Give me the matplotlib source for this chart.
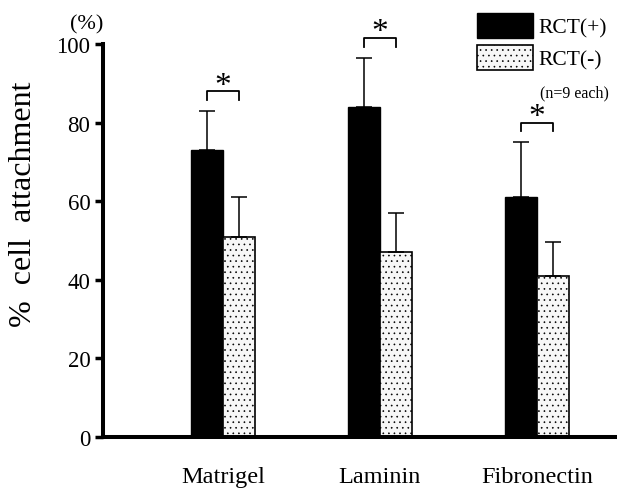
import numpy as np
import matplotlib
matplotlib.use('Agg')
from matplotlib import pyplot as plt


# data

categories = ['Matrigel', 'Laminin', 'Fibronectin']
rct_pos = [73.0, 84.0, 61.0]
rct_pos_err = [10.0, 12.5, 14.0]
rct_neg = [51.0, 47.0, 41.0]
rct_neg_err = [10.0, 10.0, 8.5]
yticks = [0, 20, 40, 60, 80, 100]


plt.rcParams['font.family'] = ['Liberation Serif', 'DejaVu Serif']
plt.rcParams['hatch.linewidth'] = 0.45

fig = plt.figure(figsize=(6.17, 4.89), dpi=100)
ax = fig.add_axes([0.1669, 0.1043, 0.8331, 0.8037])

x = np.arange(len(categories))
w = 0.205

ax.bar(x - w / 2, rct_pos, w, color='black', edgecolor='black', linewidth=1.0, label='RCT(+)')
ax.bar(x + w / 2, rct_neg, w, color='#f7f7f7', edgecolor='black', linewidth=1.2,
       hatch='...', label='RCT(-)')

# one-sided error bars
ax.errorbar(x - w / 2, rct_pos, yerr=[np.zeros(3), rct_pos_err], fmt='none',
            ecolor='black', elinewidth=1.1, capsize=6, capthick=1.1, clip_on=False)
ax.errorbar(x + w / 2, rct_neg, yerr=[np.zeros(3), rct_neg_err], fmt='none',
            ecolor='black', elinewidth=1.1, capsize=6, capthick=1.1, clip_on=False)

# significance brackets
for i in range(len(categories)):
  top = max(rct_pos[i] + rct_pos_err[i], rct_neg[i] + rct_neg_err[i]) + 5
  ax.plot([x[i] - w / 2, x[i] - w / 2, x[i] + w / 2, x[i] + w / 2],
          [top - 2.2, top, top, top - 2.2], color='black', lw=1.3, clip_on=False)
  ax.text(x[i], top - 0.6, '*', ha='center', va='baseline', fontsize=24, clip_on=False)

ax.set_xlim(-0.764, 2.51)
ax.set_ylim(0, 100)

ax.spines['top'].set_visible(False)
ax.spines['right'].set_visible(False)
ax.spines['left'].set_linewidth(2.9)
ax.spines['bottom'].set_linewidth(2.9)

ax.set_yticks(yticks)
ax.tick_params(axis='y', direction='out', length=6, width=2.5, pad=3, labelsize=16.5)
ax.set_xticks(x)
ax.set_xticklabels(categories, fontsize=17.5)
ax.tick_params(axis='x', length=0, pad=21)

ax.set_ylabel('%  cell  attachment', fontsize=23)
ax.yaxis.set_label_coords(-0.127, 0.595)

fig.text(0.141, 0.949, '(%)', ha='center', va='center', fontsize=16)

leg = ax.legend(loc='upper left', bbox_to_anchor=(0.773, 0.971), bbox_transform=fig.transFigure,
                frameon=False, fontsize=15.5, handlelength=2.6, handleheight=1.4,
                handletextpad=0.25, labelspacing=0.32, borderpad=0, borderaxespad=0)
fig.text(0.875, 0.81, '(n=9 each)', ha='left', va='center', fontsize=11.5)

plt.savefig('out.png', dpi=100)
